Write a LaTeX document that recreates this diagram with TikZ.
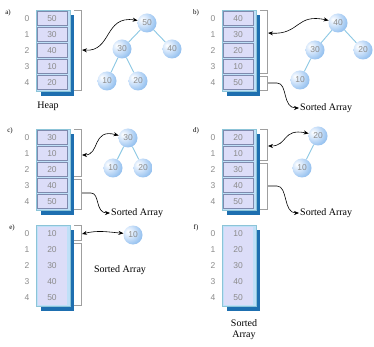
\documentclass[tikz,border=0pt]{standalone}
\usepackage{fontspec}
\setmainfont{Liberation Serif}
\setsansfont{Liberation Sans}
\usetikzlibrary{arrows.meta}
\definecolor{shadowblue}{HTML}{1E6FB0}
\definecolor{framefill}{HTML}{BFE0F8}
\definecolor{framecol}{HTML}{8CC4D8}
\definecolor{cellfill}{HTML}{DCDDF8}
\definecolor{sepcol}{HTML}{7F8AAE}
\definecolor{numgray}{HTML}{8C8C8C}
\definecolor{edgeblue}{HTML}{8CC8E4}
\definecolor{ballA}{HTML}{D4E6FB}
\definecolor{ballB}{HTML}{86B8EC}
\definecolor{ballC}{HTML}{3578CC}
\pgfdeclareradialshading{nodeball}{\pgfpoint{-14bp}{10bp}}{color(0bp)=(white); color(14bp)=(ballA); color(36bp)=(ballB); color(60bp)=(ballC); color(72bp)=(ballC)}
\pgfdeclarelayer{bgl}
\pgfdeclarelayer{edgel}
\pgfsetlayers{bgl,edgel,main}
\tikzset{
 val/.style={font=\sffamily\fontsize{8.5}{8.5}\selectfont, text=numgray, inner sep=0pt},
 tnode/.style={circle, minimum size=19pt, inner sep=0pt, shading=nodeball, font=\sffamily\fontsize{8.5}{8.5}\selectfont, text=numgray},
 tedge/.style={draw=edgeblue, line width=0.9pt},
 brk/.style={draw=gray!75, line width=0.8pt},
 link/.style={line width=0.6pt, {Stealth[length=5pt,width=4pt]}-{Stealth[length=5pt,width=4pt]}},
 toarr/.style={line width=0.6pt, -{Stealth[length=5pt,width=4pt]}},
 lbl/.style={font=\rmfamily\fontsize{10}{10}\selectfont, inner sep=1pt},
 plabel/.style={font=\rmfamily\fontsize{7}{7}\selectfont, inner sep=0pt},
}
\newcommand\heaparr[4]{%
 \begin{scope}[shift={#2}]
  \fill[shadowblue] (41,15) rectangle (74,96);
  \filldraw[draw=framecol, fill=framefill, line width=0.6pt] (36,10) rectangle (70,91);
  \ifnum#4=1
   \foreach \v [count=\i from 0] in {#3}{
     \filldraw[draw=sepcol, fill=cellfill, line width=0.6pt] (37.5,{11.5+16*\i}) rectangle (67,{25.5+16*\i});
   }
  \else
   \fill[cellfill] (37.5,12) rectangle (67,89.5);
  \fi
  \foreach \v [count=\i from 0] in {#3}{
   \node[val] (#1v\i) at (52,{18.5+16*\i}) {\v};
   \node[val] (#1i\i) at (27,{18.5+16*\i}) {\i};
  }
 \end{scope}}
\newcommand\tedges[1]{\begin{pgfonlayer}{edgel}\foreach \p/\q in {#1}{\draw[tedge] (\p) -- (\q);}\end{pgfonlayer}}
\begin{document}
\begin{tikzpicture}[x=1pt,y=-1pt]
\useasboundingbox (0,0) rectangle (374,347);
\begin{pgfonlayer}{bgl}
\fill[white] (0,0) rectangle (374,347);
\end{pgfonlayer}

% ---------- a ----------
\node[plabel] (la) at (8,13) {a)};
\heaparr{a}{(0,0)}{50,30,40,10,20}{1}
\draw[brk] (74,10.5) -- (81,10.5) -- (81,90.5) -- (74,90.5);
\coordinate (abr) at (82,50);
\node[lbl] (heap) at (48,106) {Heap};
\node[tnode] (a50) at (147,23) {50};
\node[tnode] (a30) at (122,49) {30};
\node[tnode] (a40) at (172,49) {40};
\node[tnode] (a10) at (107,81) {10};
\node[tnode] (a20) at (138,81) {20};
\tedges{a50/a30,a50/a40,a30/a10,a30/a20}
\draw[link] (abr) .. controls (112,52) and (104,15) .. (a50.165);

% ---------- b ----------
\node[plabel] (lb) at (196,13) {b)};
\heaparr{b}{(186,0)}{40,30,20,10,50}{1}
\draw[brk] (260,10.5) -- (267,10.5) -- (267,73) -- (260,73);
\draw[brk] (260,76) -- (267,76) -- (267,90.5) -- (260,90.5);
\coordinate (bbr) at (268,33);
\coordinate (bbl) at (268,83);
\node[tnode] (b40) at (338,23) {40};
\node[tnode] (b30) at (315,50) {30};
\node[tnode] (b20) at (363,50) {20};
\node[tnode] (b10) at (300,80) {10};
\tedges{b40/b30,b40/b20,b30/b10}
\draw[link] (bbr) .. controls (300,35) and (296,13) .. (b40.165);
\node[lbl, anchor=west] (bsa) at (299,108) {Sorted Array};
\draw[toarr] (bbl) -- (277,83) .. controls (288,83) and (282,108) .. (bsa.west);

% ---------- c ----------
\node[plabel] (lc) at (10,131) {c)};
\heaparr{c}{(0,119)}{30,10,20,40,50}{1}
\draw[brk] (74,129.5) -- (81,129.5) -- (81,176) -- (74,176);
\draw[brk] (74,179) -- (81,179) -- (81,209.5) -- (74,209.5);
\coordinate (cbr) at (82,155);
\coordinate (cbl) at (82,193);
\node[tnode] (c30) at (128,138) {30};
\node[tnode] (c10) at (113,168) {10};
\node[tnode] (c20) at (143,168) {20};
\tedges{c30/c10,c30/c20}
\draw[link] (cbr) .. controls (100,155) and (92,128) .. (c30.165);
\node[lbl, anchor=west] (csa) at (110,213) {Sorted Array};
\draw[toarr] (cbl) -- (91,193) .. controls (100,193) and (95,213) .. (csa.west);

% ---------- d ----------
\node[plabel] (ld) at (196,131) {d)};
\heaparr{d}{(186,119)}{20,10,30,40,50}{1}
\draw[brk] (260,129.5) -- (267,129.5) -- (267,160) -- (260,160);
\draw[brk] (260,163) -- (267,163) -- (267,209.5) -- (260,209.5);
\coordinate (dbr) at (268,146);
\coordinate (dbl) at (268,186);
\node[tnode] (d20) at (318,136) {20};
\node[tnode] (d10) at (302,168) {10};
\tedges{d20/d10}
\draw[link] (dbr) .. controls (288,146) and (282,128) .. (d20.165);
\node[lbl, anchor=west] (dsa) at (299,213) {Sorted Array};
\draw[toarr] (dbl) -- (277,186) .. controls (288,186) and (283,213) .. (dsa.west);

% ---------- e ----------
\node[plabel] (le) at (12,228) {e)};
\heaparr{e}{(0,215)}{10,20,30,40,50}{0}
\draw[brk] (74,225.5) -- (81,225.5) -- (81,240) -- (74,240);
\draw[brk] (74,243) -- (81,243) -- (81,305.5) -- (74,305.5);
\coordinate (ebr) at (82,234);
\node[tnode] (e10) at (133,235) {10};
\draw[link] (ebr) .. controls (98,230) and (108,232) .. (e10.170);
\node[lbl] (esa) at (120,270) {Sorted Array};

% ---------- f ----------
\node[plabel] (lf) at (196,228) {f)};
\heaparr{f}{(186,215)}{10,20,30,40,50}{0}
\node[lbl, align=center] (fsa) at (244,330) {Sorted\\[1pt]Array};
\end{tikzpicture}
\end{document}
